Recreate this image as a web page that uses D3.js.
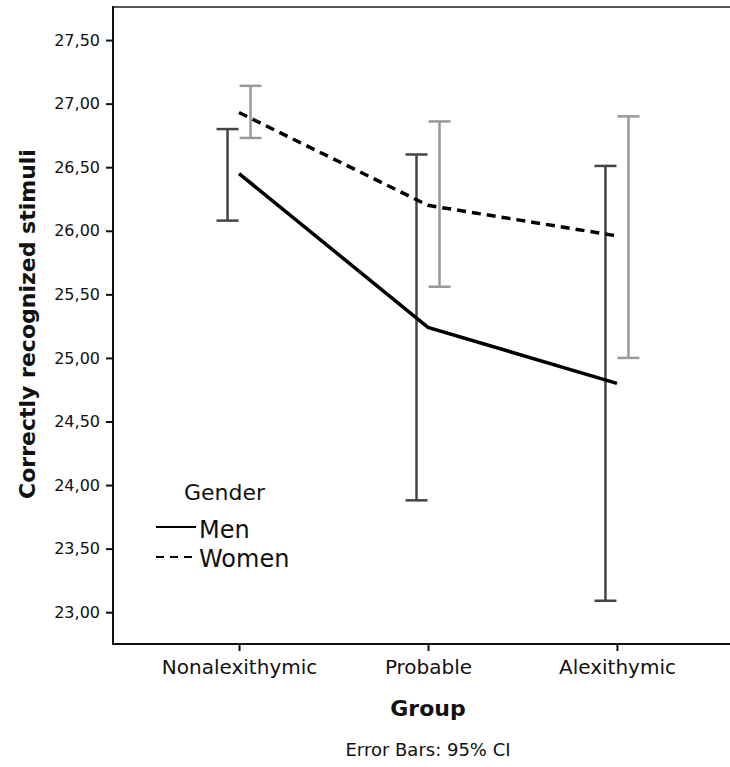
<!DOCTYPE html>
<html>
<head>
<meta charset="utf-8">
<script src="https://cdn.jsdelivr.net/npm/d3@7"></script>
<style>
  html, body { margin: 0; padding: 0; background: #fff; overflow: hidden; }
  svg { display: block; }
  text { font-family: "DejaVu Sans", sans-serif; fill: #111; }
</style>
</head>
<body>
<script>
// group means with 95% CI
var groups = ["Nonalexithymic", "Probable", "Alexithymic"];
var menMean  = [26.45, 25.24, 24.80];
var menLow   = [26.08, 23.88, 23.09];
var menHigh  = [26.80, 26.60, 26.51];
var womenMean = [26.93, 26.20, 25.96];
var womenLow  = [26.73, 25.56, 25.00];
var womenHigh = [27.14, 26.86, 26.90];
var yTicks = [23, 23.5, 24, 24.5, 25, 25.5, 26, 26.5, 27, 27.5];

var width = 730, height = 767;
// plot box (right edge sits past the window, like the reference)
var plotLeft = 113, plotRight = 743, plotTop = 7, plotBottom = 644;

var svg = d3.select("body").append("svg")
            .attr("width", width)
            .attr("height", height)
            .style("overflow", "hidden");

var x = d3.scalePoint().domain(groups).range([plotLeft, plotRight]).padding(0.667);
var y = d3.scaleLinear().domain([22.75, 27.76]).range([plotBottom, plotTop]);

var fmt = function(d){ return d3.format(".2f")(d).replace(".", ","); };

// frame: top, bottom and left only; the right side runs off the page
svg.append("line").attr("x1", plotLeft).attr("x2", width).attr("y1", plotTop).attr("y2", plotTop)
   .attr("stroke", "#555").attr("stroke-width", 2);
svg.append("line").attr("x1", plotLeft).attr("x2", width).attr("y1", plotBottom).attr("y2", plotBottom)
   .attr("stroke", "#111").attr("stroke-width", 2);
svg.append("line").attr("x1", plotLeft).attr("x2", plotLeft).attr("y1", plotTop - 1).attr("y2", plotBottom + 1)
   .attr("stroke", "#111").attr("stroke-width", 2);

// y axis
var yAxis = svg.append("g")
   .attr("transform", "translate(" + plotLeft + ",0)")
   .call(d3.axisLeft(y).tickValues(yTicks).tickFormat(fmt).tickSize(7).tickPadding(6));
yAxis.select(".domain").remove();
yAxis.selectAll(".tick line").attr("stroke", "#111").attr("stroke-width", 2);
yAxis.selectAll(".tick text").style("font-size", "16px").style("font-family", "DejaVu Sans").attr("fill", "#222");

// x axis
var xAxis = svg.append("g")
   .attr("transform", "translate(0," + plotBottom + ")")
   .call(d3.axisBottom(x).tickSize(7).tickPadding(9));
xAxis.select(".domain").remove();
xAxis.selectAll(".tick line").attr("stroke", "#111").attr("stroke-width", 2);
xAxis.selectAll(".tick text").style("font-size", "20px").style("font-family", "DejaVu Sans").attr("fill", "#111");

// titles
svg.append("text")
   .attr("transform", "translate(35,324) rotate(-90)")
   .attr("text-anchor", "middle")
   .style("font-size", "22px").style("font-weight", "bold")
   .text("Correctly recognized stimuli");
svg.append("text")
   .attr("x", x("Probable")).attr("y", 716)
   .attr("text-anchor", "middle")
   .style("font-size", "22px").style("font-weight", "bold")
   .text("Group");
svg.append("text")
   .attr("x", x("Probable")).attr("y", 756)
   .attr("text-anchor", "middle")
   .style("font-size", "18px")
   .text("Error Bars: 95% CI");

// error bars
var cap = 11;
function errorBars(low, high, offset, color){
  var g = svg.append("g").attr("stroke", color).attr("stroke-width", 2.5);
  groups.forEach(function(grp, i){
    var cx = x(grp) + offset;
    g.append("line").attr("x1", cx).attr("x2", cx).attr("y1", y(low[i])).attr("y2", y(high[i]));
    g.append("line").attr("x1", cx - cap).attr("x2", cx + cap).attr("y1", y(low[i])).attr("y2", y(low[i]));
    g.append("line").attr("x1", cx - cap).attr("x2", cx + cap).attr("y1", y(high[i])).attr("y2", y(high[i]));
  });
}
errorBars(menLow, menHigh, -11.5, "#444");
errorBars(womenLow, womenHigh, 11.5, "#999");

// mean lines
var line = d3.line()
   .x(function(d, i){ return x(groups[i]); })
   .y(function(d){ return y(d); });

svg.append("path").datum(menMean).attr("d", line)
   .attr("fill", "none").attr("stroke", "#000").attr("stroke-width", 3.5);
svg.append("path").datum(womenMean).attr("d", line)
   .attr("fill", "none").attr("stroke", "#000").attr("stroke-width", 3.5)
   .attr("stroke-dasharray", "9,6");

// legend
var legend = svg.append("g");
legend.append("text").attr("x", 184).attr("y", 500).style("font-size", "22px").text("Gender");
legend.append("line").attr("x1", 156).attr("x2", 196).attr("y1", 527).attr("y2", 527)
   .attr("stroke", "#000").attr("stroke-width", 2);
legend.append("text").attr("x", 199).attr("y", 538).style("font-size", "24px").text("Men");
legend.append("line").attr("x1", 156).attr("x2", 195).attr("y1", 557).attr("y2", 557)
   .attr("stroke", "#000").attr("stroke-width", 2).attr("stroke-dasharray", "8,6");
legend.append("text").attr("x", 199).attr("y", 567).style("font-size", "24px").text("Women");
</script>
</body>
</html>
